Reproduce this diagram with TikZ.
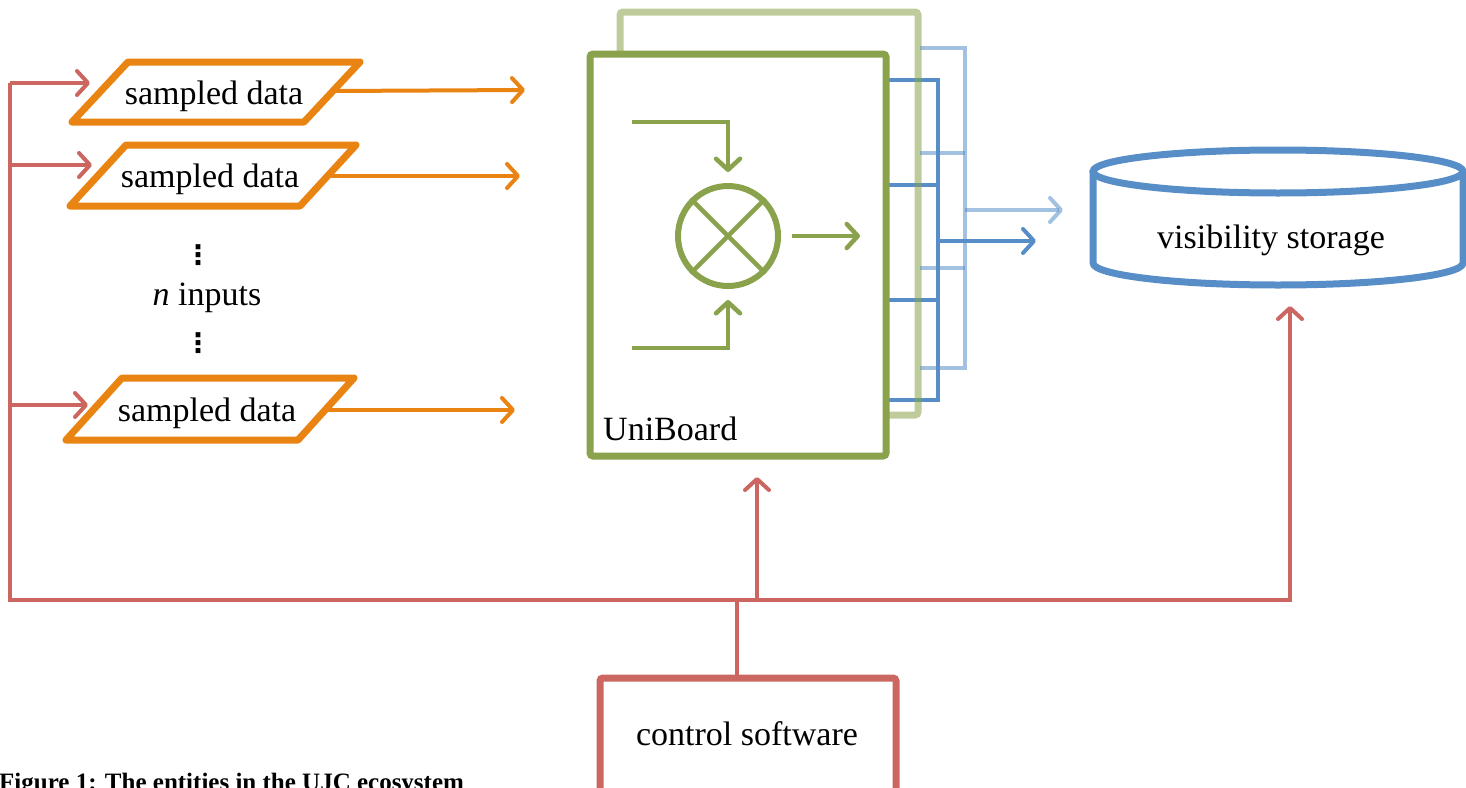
\documentclass[tikz,border=0pt]{standalone}
\usepackage{fontspec}
\setmainfont{Liberation Serif}
\newfontfamily\symfont{DejaVu Sans}
\usetikzlibrary{arrows.meta}
\definecolor{cOrange}{RGB}{233,131,17}
\definecolor{cRed}{RGB}{204,102,96}
\definecolor{cGreen}{RGB}{137,162,75}
\definecolor{cBlue}{RGB}{88,142,199}
\begin{document}
\begin{tikzpicture}[x=1pt,y=-1pt,
  lbl/.style={font=\fontsize{34}{40}\selectfont, inner sep=0pt, anchor=base},
  vdot/.style={font=\symfont\bfseries\fontsize{27}{27}\selectfont, inner sep=0pt},
  barb/.style={-{Straight Barb[length=11pt,width=24pt,round]}},
  databox/.style={draw=cOrange, line width=7pt, line join=round, fill=white},
  oline/.style={draw=cOrange, line width=4pt, barb},
  rline/.style={draw=cRed, line width=4pt},
  gline/.style={draw=cGreen, line width=4.5pt},
  bline/.style={draw=cBlue, line width=4pt},
  lbline/.style={draw=cBlue, line width=4pt, opacity=0.55},
]
\clip (0,0) rectangle (1466,787);
\useasboundingbox (0,0) rectangle (1466,787);

% ---------- sampled data inputs ----------
\draw[databox] (72,122) -- (128,62) -- (360,62) -- (304,122) -- cycle;
\draw[databox] (70,206) -- (126,145) -- (356,145) -- (300,206) -- cycle;
\draw[databox] (66,440) -- (122,378) -- (354,378) -- (298,440) -- cycle;
\node[lbl] (d1) at (214,104) {sampled data};
\node[lbl] (d2) at (210,187) {sampled data};
\node[lbl] (d3) at (207,421) {sampled data};
\coordinate (d1o) at (333,91);
\coordinate (d2o) at (329,176);
\coordinate (d3o) at (326,410);
\coordinate (d1t) at (525,90);
\coordinate (d2t) at (520,176);
\coordinate (d3t) at (515,410);
\draw[oline] (d1o) -- (d1t);
\draw[oline] (d2o) -- (d2t);
\draw[oline] (d3o) -- (d3t);

\node[vdot] (v1) at (198,255) {⋮};
\node[lbl] (ni) at (207,305) {\textit{n} inputs};
\node[vdot] (v2) at (198,343) {⋮};

% ---------- UniBoard stack ----------
% front board output lines
\draw[bline, line join=miter] (888,80) -| (938,400) -- (888,400);
\draw[bline] (888,185) -- (938,185);
\draw[bline] (888,300) -- (938,300);
\coordinate (bo) at (938,241);
\coordinate (bot) at (1036,241);
\draw[bline, barb] (bo) -- (bot);
% back board
\draw[draw=cGreen, line width=7pt, rounded corners=3pt, opacity=0.55] (620,12) rectangle (918,415);
\draw[lbline] (920,48) -| (965,368) -- (920,368);
\draw[lbline] (920,153) -- (965,153);
\draw[lbline] (920,268) -- (965,268);
\coordinate (lbo) at (965,210);
\coordinate (lbot) at (1063,210);
\draw[lbline, barb] (lbo) -- (lbot);
% front board
\node[draw=cGreen, fill=white, line width=7pt, rounded corners=3pt,
      minimum width=296pt, minimum height=402pt] (ub) at (738,255) {};
\node[lbl, anchor=base west] (ubl) at (603,440) {UniBoard};

% multiplier
\node[circle, draw=cGreen, line width=6pt, minimum size=100pt, inner sep=0pt] (mx) at (728,236) {};
\draw[gline] (mx.north west) -- (mx.south east);
\draw[gline] (mx.north east) -- (mx.south west);
\coordinate (in1) at (632,122);
\coordinate (in2) at (632,348);
\coordinate (mo) at (860,236);
\draw[gline, barb, shorten >=11pt] (in1) -| (mx.north);
\draw[gline, barb, shorten >=11pt] (in2) -| (mx.south);
\draw[gline, barb, shorten <=11pt] (mx.east) -- (mo);

% ---------- visibility storage ----------
\draw[draw=cBlue, line width=7pt, line join=round, fill=white]
  (1093,171.5) -- (1093,263) arc[start angle=180, end angle=0, x radius=185, y radius=22]
  -- (1463,171.5);
\draw[draw=cBlue, line width=7pt] (1278,171.5) ellipse [x radius=185, y radius=21.5];
\node[lbl] (vs) at (1271,248) {visibility storage};
\coordinate (vsb) at (1290,306);

% ---------- control software ----------
\node[draw=cRed, fill=white, line width=7pt, rounded corners=3pt,
      minimum width=296pt, minimum height=124pt] (cs) at (748,740) {};
\node[lbl] (csl) at (747,745) {control software};

% control lines
\coordinate (L1) at (10,83);
\coordinate (L2) at (10,165);
\coordinate (L3) at (10,405);
\coordinate (Lb) at (10,600);
\coordinate (Rb) at (1290,600);
\coordinate (J) at (737,600);
\coordinate (Jc) at (737,678);
\coordinate (Ju) at (757,600);
\coordinate (ubin) at (757,477);
\coordinate (a1) at (90,83);
\coordinate (a2) at (92,165);
\coordinate (a3) at (88,405);
\draw[rline, barb] (L1) -- (Lb) -- (Rb) -- (vsb);
\draw[rline, barb] (L1) -- (a1);
\draw[rline, barb] (L2) -- (a2);
\draw[rline, barb] (L3) -- (a3);
\draw[rline] (Jc) -- (J);
\draw[rline, barb] (Ju) -- (ubin);

% caption (cut off by the page edge, as in the reference)
\node[font=\bfseries\fontsize{25}{30}\selectfont, inner sep=0pt, anchor=base west] (cap) at (-1,790)
  {Figure 1: The entities in the UJC ecosystem};
\end{tikzpicture}
\end{document}
